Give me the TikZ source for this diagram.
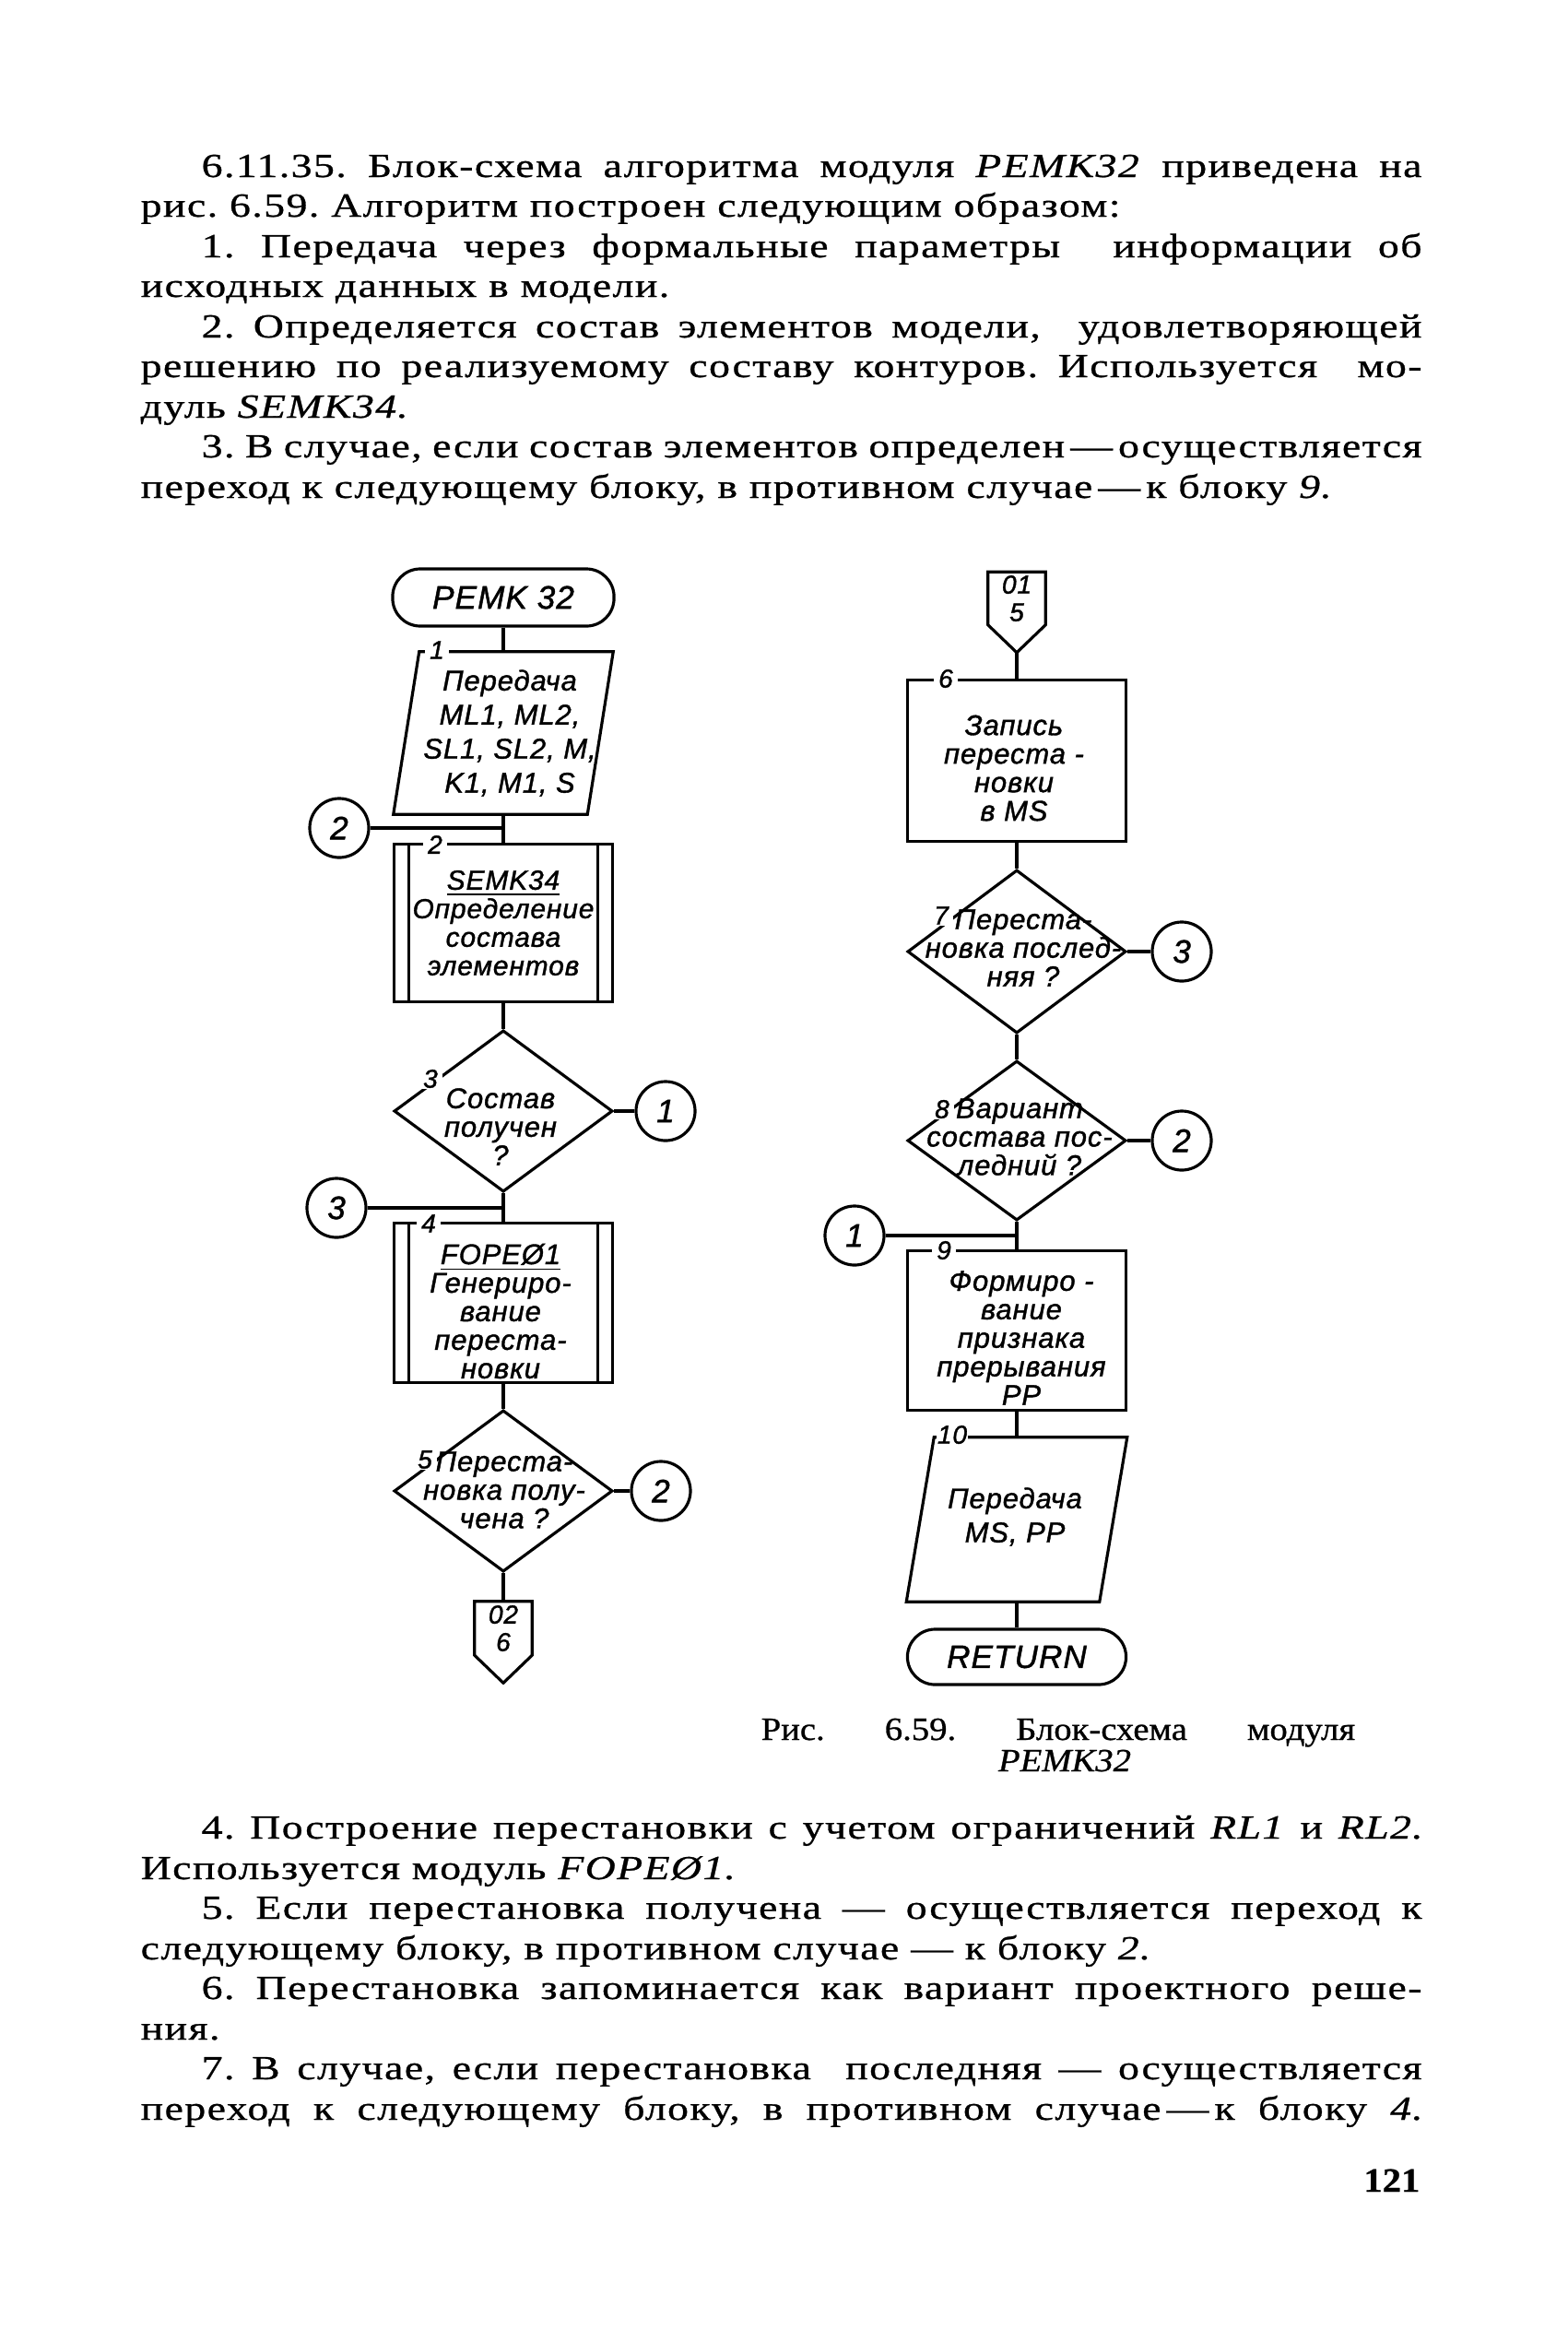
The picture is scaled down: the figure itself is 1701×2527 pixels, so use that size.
\documentclass[tikz,border=0pt]{standalone}
\usepackage{fontspec}
\setmainfont{Liberation Serif}[FakeStretch=1.25,LetterSpace=4,FakeBold=0.8]
\newfontfamily\capf{Liberation Serif}[FakeStretch=1.1,FakeBold=0.8]
\newfontfamily\gost{Liberation Sans}[LetterSpace=3,FakeBold=1.2]
\usetikzlibrary{shapes.geometric}

\newcommand\blk{\gost\itshape\fontsize{8.8}{8.8}\selectfont}
\newcommand\jind[1]{\hbox to 13.23cm{#1}}
\newcommand\jfull[1]{\hbox to 13.89cm{#1}}
\frenchspacing

\tikzset{
  line/.style={line width=0.9pt},
  term/.style={draw,line width=0.9pt,rounded corners=0.3cm,minimum width=2.4cm,minimum height=0.62cm,
    font=\gost\itshape\fontsize{10}{12}\selectfont},
  proc/.style={draw,line width=0.9pt,minimum width=2.37cm,minimum height=1.73cm,inner sep=0pt},
  io/.style={minimum height=1.75cm,inner sep=0pt},
  dec/.style={draw,diamond,line width=0.9pt,minimum width=2.37cm,minimum height=1.75cm,inner sep=0pt},
  btext/.style={align=center,inner sep=0pt,font=\blk},
  conn/.style={draw,circle,line width=0.9pt,minimum size=0.64cm,inner sep=0pt,
    font=\gost\itshape\fontsize{10}{12}\selectfont},
  offp/.style={minimum width=0.61cm,minimum height=0.57cm,inner sep=0pt,align=center,
    font=\gost\itshape\fontsize{8}{8.5}\selectfont},
  num/.style={fill=white,inner sep=0.3pt,minimum width=0.26cm,font=\gost\itshape\fontsize{8}{8}\selectfont},
  body/.style={anchor=base west,inner sep=0pt,font=\fontsize{10.4}{12}\selectfont}
}

\begin{document}
\begin{tikzpicture}[x=0.01cm,y=-0.01cm]
\fill[white] (0,0) rectangle (1701,2527);
\useasboundingbox (0,0) rectangle (1701,2527);

\node[body] (a1) at (218,192) {\jind{6.11.35. Блок-схема алгоритма модуля \textit{PEMK32} приведена на}};
\node[body] (a2) at (152,235) {рис. 6.59. Алгоритм построен следующим образом:};
\node[body] (a3) at (218,279) {\jind{1. Передача через формальные параметры \ информации об}};
\node[body] (a4) at (152,322) {исходных данных в модели.};
\node[body] (a5) at (218,366) {\jind{2. Определяется состав элементов модели, \ удовлетворяющей}};
\node[body] (a6) at (152,409) {\jfull{решению по реализуемому составу контуров. Используется \ мо-}};
\node[body] (a7) at (152,453) {дуль \textit{SEMK34}.};
\node[body] (a8) at (218,496) {\jind{3. В случае, если состав элементов определен\,—\,осуществляется}};
\node[body] (a9) at (152,540) {переход к следующему блоку, в противном случае\,—\,к блоку \textit{9}.};

\node[term] (t0) at (546,648) {PEMK 32};
\node[io,minimum width=2.09cm] (p1) at (546,795) {};
\draw[line] ([xshift=0.14cm]p1.north west) -- ([xshift=0.14cm]p1.north east)
  -- ([xshift=-0.14cm]p1.south east) -- ([xshift=-0.14cm]p1.south west) -- cycle;
\node[conn] (k2a) at (368,898) {2};
\node[proc,minimum height=1.71cm] (b2) at (546,1001) {};
\draw[line] ([xshift=0.18cm]b2.north west) -- ([xshift=0.18cm]b2.south west)
  ([xshift=-0.18cm]b2.north east) -- ([xshift=-0.18cm]b2.south east);
\node[dec] (d3) at (546,1205) {};
\node[conn] (k1a) at (722,1205) {1};
\node[conn] (k3a) at (365,1310) {3};
\node[proc] (b4) at (546,1413) {};
\draw[line] ([xshift=0.18cm]b4.north west) -- ([xshift=0.18cm]b4.south west)
  ([xshift=-0.18cm]b4.north east) -- ([xshift=-0.18cm]b4.south east);
\node[dec] (d5) at (546,1617) {};
\node[conn] (k2b) at (717,1617) {2};
\node[offp] (c02) at (546,1766) {02\\6};
\draw[line] (c02.south west) -- (c02.north west) -- (c02.north east) -- (c02.south east)
  -- ([yshift=-0.3cm]c02.south) -- cycle;

\node[offp,minimum height=0.56cm] (c01) at (1103,649) {01\\5};
\draw[line] (c01.south west) -- (c01.north west) -- (c01.north east) -- (c01.south east)
  -- ([yshift=-0.3cm]c01.south) -- cycle;
\coordinate (c01tip) at ([yshift=-0.3cm]c01.south);
\node[proc,minimum height=1.75cm] (b6) at (1103,825) {};
\node[dec,minimum height=1.77cm] (d7) at (1103,1032) {};
\node[conn] (k3b) at (1282,1032) {3};
\node[dec,minimum height=1.73cm] (d8) at (1103,1237) {};
\node[conn] (k2c) at (1282,1237) {2};
\node[conn] (k1b) at (927,1340) {1};
\node[proc] (b9) at (1103,1443) {};
\node[io,minimum width=2.08cm,minimum height=1.77cm] (p10) at (1103,1648) {};
\draw[line] ([xshift=0.15cm]p10.north west) -- ([xshift=0.15cm]p10.north east)
  -- ([xshift=-0.15cm]p10.south east) -- ([xshift=-0.15cm]p10.south west) -- cycle;
\node[term,minimum width=2.37cm,minimum height=0.6cm] (t11) at (1103,1797) {RETURN};

\draw[line] (t0.south) -- (t0.south |- p1.north);
\draw[line] (p1.south) -- (b2.north);
\draw[line] (k2a) -- (k2a -| b2.north);
\draw[line] (b2.south) -- (d3.north);
\draw[line] (d3.east) -- (k1a);
\draw[line] (d3.south) -- (b4.north);
\draw[line] (k3a) -- (k3a -| b4.north);
\draw[line] (b4.south) -- (d5.north);
\draw[line] (d5.east) -- (k2b);
\draw[line] (d5.south) -- (c02.north);
\draw[line] (c01tip) -- (b6.north);
\draw[line] (b6.south) -- (d7.north);
\draw[line] (d7.east) -- (k3b);
\draw[line] (d7.south) -- (d8.north);
\draw[line] (d8.east) -- (k2c);
\draw[line] (d8.south) -- (b9.north);
\draw[line] (k1b) -- (k1b -| b9.north);
\draw[line] (b9.south) -- (p10.north);
\draw[line] (p10.south) -- (t11.north);

\node[num] (n1) at (474,705) {1};
\node[num] (n2) at (472,916) {2};
\node[num] (n3) at (467,1170) {3};
\node[num] (n4) at (465,1327) {4};
\node[num] (n5) at (461,1583) {5};
\node[num] (n6) at (1026,736) {6};
\node[num] (n7) at (1021,993) {7};
\node[num] (n8) at (1022,1203) {8};
\node[num] (n9) at (1024,1356) {9};
\node[num] (n10) at (1033,1556) {10};

\node[btext,font=\gost\itshape\fontsize{8.8}{10.5}\selectfont] (p1t) at (553,795) {Передача\\ML1, ML2,\\SL1, SL2, M,\\K1, M1, S};
\node[btext,font=\gost\itshape\fontsize{8.5}{8.8}\selectfont] (b2t) at (546,1001) {\underline{SEMK34}\\Определение\\состава\\элементов};
\node[btext] (d3t) at (543,1222) {Состав\\получен\\?};
\node[btext] (b4t) at (543,1422) {\underline{FOPEØ1}\\Генериро-\\вание\\переста-\\новки};
\node[btext] (d5t) at (547,1616) {Переста-\\новка полу-\\чена ?};
\node[btext] (b6t) at (1100,833) {Запись\\переста -\\новки\\в MS};
\node[btext] (d7t) at (1110,1028) {Переста-\\новка послед-\\няя ?};
\node[btext] (d8t) at (1106,1233) {Вариант\\состава пос-\\ледний ?};
\node[btext] (b9t) at (1108,1451) {Формиро -\\вание\\признака\\прерывания\\PP};
\node[btext,font=\gost\itshape\fontsize{8.8}{10.5}\selectfont] (p10t) at (1101,1645) {Передача\\MS, PP};

\node[body,font=\capf\fontsize{10}{12}\selectfont] (cap1) at (825,1887) {\hbox to 6.44cm{Рис.\hfill 6.59.\hfill Блок-схема\hfill модуля}};
\node[anchor=base,inner sep=0pt,font=\capf\fontsize{10}{12}\selectfont] (cap2) at (1155,1921) {\textit{PEMK32}};

\node[body] (b1) at (218,1994) {\jind{4. Построение перестановки с учетом ограничений \textit{RL1} и \textit{RL2}.}};
\node[body] (b2l) at (152,2038) {Используется модуль \textit{FOPEØ1}.};
\node[body] (b3) at (218,2081) {\jind{5. Если перестановка получена — осуществляется переход к}};
\node[body] (b4l) at (152,2125) {следующему блоку, в противном случае — к блоку \textit{2}.};
\node[body] (b5) at (218,2168) {\jind{6. Перестановка запоминается как вариант проектного реше-}};
\node[body] (b6l) at (152,2212) {ния.};
\node[body] (b7) at (218,2255) {\jind{7. В случае, если перестановка \ последняя — осуществляется}};
\node[body] (b8) at (152,2299) {\jfull{переход к следующему блоку, в противном случае\,—\,к блоку \textit{4}.}};
\node[anchor=base east,inner sep=0pt,font=\capf\fontsize{10.5}{12}\selectfont\bfseries] (pg) at (1541,2377) {121};
\end{tikzpicture}
\end{document}
